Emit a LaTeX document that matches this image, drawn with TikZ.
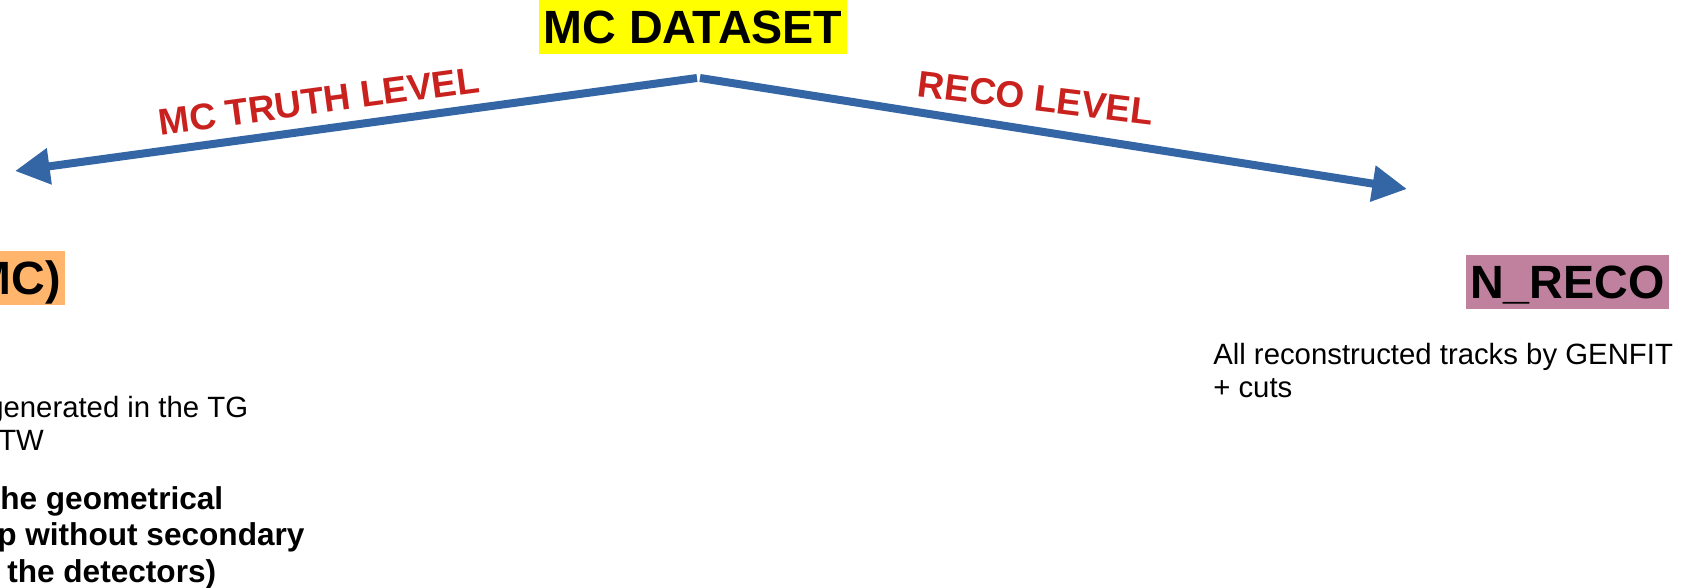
\documentclass[tikz,border=0pt]{standalone}
\usepackage{fontspec}
\setmainfont{Liberation Sans}
\usetikzlibrary{arrows.meta}
\definecolor{arrowblue}{RGB}{52,101,164}
\definecolor{levelred}{RGB}{201,33,30}
\definecolor{dsyellow}{RGB}{255,255,0}
\definecolor{mcorange}{RGB}{255,182,108}
\definecolor{recomauve}{RGB}{191,129,158}

\begin{document}
\begin{tikzpicture}[x=0.75pt, y=-0.75pt,
title/.style={font=\fontsize{35}{40}\selectfont\bfseries, inner xsep=3pt,
inner ysep=0pt, minimum height=40.5pt, text height=25pt, text depth=0pt},
level/.style={font=\fontsize{27.8}{32}\selectfont\bfseries, text=levelred, inner sep=0pt},
note/.style={font=\fontsize{22}{24.75}\selectfont, anchor=base west, inner sep=0pt},
bnote/.style={font=\fontsize{23.7}{27}\selectfont\bfseries, anchor=base west, inner sep=0pt},
link/.style={-{Triangle[length=26pt,width=26pt]}, line width=6pt, arrowblue}]
  \path[use as bounding box, clip] (0,0) rectangle (1689,588);
  % dataset
  \node[title, fill=dsyellow, minimum width=231pt] (ds) at (693,27) {MC DATASET};
  \coordinate (apexl) at (697,78);
  \coordinate (apexr) at (700,78);
  % truth side
  \coordinate (truthend) at (15,171);
  \node[level, rotate=7.7] (truthlbl) at (319,101) {MC TRUTH LEVEL};
  \node[title, fill=mcorange, anchor=east] (mc) at (65,278) {MC)};
  \foreach \x/\y/\t [count=\i] in {-13/417/generated in the TG, -2/450/TW}
    \node[note] (mcnote\i) at (\x,\y) {\t};
  \foreach \x/\y/\t [count=\i] in {0/509/he geometrical, -3/545/p without secondary, 7/582/the detectors)}
    \node[bnote] (mcbold\i) at (\x,\y) {\t};
  % reco side
  \coordinate (recoend) at (1407,189);
  \node[level, rotate=-7] (recolbl) at (1036,98) {RECO LEVEL};
  \node[title, fill=recomauve, minimum width=149pt] (reco) at (1567.5,282) {N\_RECO};
  \node[note, align=left] (reconote) at (1213,397) {All reconstructed tracks by GENFIT\\+ cuts};

\foreach \from/\to in {apexl/truthend, apexr/recoend}
    \draw[link] (\from) -- (\to);
\end{tikzpicture}
\end{document}
